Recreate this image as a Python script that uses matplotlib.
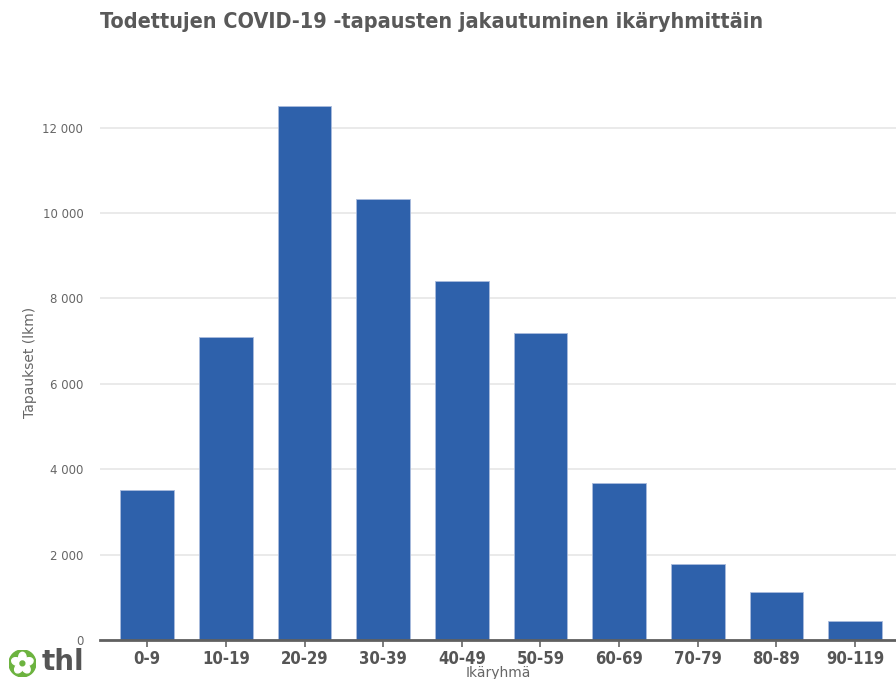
import matplotlib.pyplot as plt
import numpy as np
from matplotlib.patches import Circle, Ellipse

age_groups = ["0-9", "10-19", "20-29", "30-39", "40-49", "50-59",
              "60-69", "70-79", "80-89", "90-119"]
cases = [3520, 7100, 12510, 10340, 8410, 7190, 3680, 1780, 1125, 445]
y_ticks = [0, 2000, 4000, 6000, 8000, 10000, 12000]
y_tick_labels = ["0", "2 000", "4 000", "6 000", "8 000", "10 000", "12 000"]

bar_color = "#2e61ab"
text_gray = "#666666"

fig = plt.figure(figsize=(8.96, 6.79), dpi=100)
ax = fig.add_axes([0.1116, 0.0574, 0.8884, 0.8174])

x = np.arange(len(age_groups))
ax.bar(x, cases, width=0.68, color=bar_color, edgecolor="#aabbdd",
       linewidth=0.6, zorder=3)

ax.set_xlim(-0.6, 9.52)
ax.set_ylim(0, 13000)
ax.set_yticks(y_ticks)
ax.set_yticklabels(y_tick_labels, color=text_gray, fontsize=8.5)
ax.set_xticks(x)
ax.set_xticklabels(age_groups, fontsize=12, fontweight="bold",
                   color="#555555", fontstretch="condensed")
ax.tick_params(axis="y", length=0, pad=12)
ax.tick_params(axis="x", length=5, width=1.2, color="#666666", pad=2)
ax.grid(axis="y", color="#e6e6e6", linewidth=1.2, zorder=0)
for side in ["top", "right", "left"]:
    ax.spines[side].set_visible(False)
ax.spines["bottom"].set_color("#606060")
ax.spines["bottom"].set_linewidth(2)
ax.spines["bottom"].set_zorder(4)

ax.set_ylabel("Tapaukset (lkm)", color=text_gray, fontsize=10, labelpad=4)
ax.set_xlabel("Ikäryhmä", color=text_gray, fontsize=10, labelpad=-1)

fig.text(0.1116, 0.968, "Todettujen COVID-19 -tapausten jakautuminen ikäryhmittäin",
         fontsize=15.5, fontweight="bold", color="#595959", va="center",
         fontstretch="condensed")

# thl logo
logo = fig.add_axes([0.010, 0.003, 0.030, 0.040])
logo.set_aspect("equal")
logo.axis("off")
logo.set_xlim(-1, 1)
logo.set_ylim(-1, 1)
logo.add_patch(Circle((0, 0), 1, color="#6cb33f"))
for ang in np.arange(5) * 72 + 90:
    r = np.deg2rad(ang)
    logo.add_patch(Ellipse((0.45 * np.cos(r), 0.45 * np.sin(r)), 0.55, 0.75,
                           angle=ang - 90, color="white"))
logo.add_patch(Circle((0, 0), 0.18, color="#6cb33f"))
fig.text(0.046, 0.025, "thl", fontsize=20, fontweight="bold", color="#555555",
         va="center")

fig.savefig("out.png", dpi=100)
